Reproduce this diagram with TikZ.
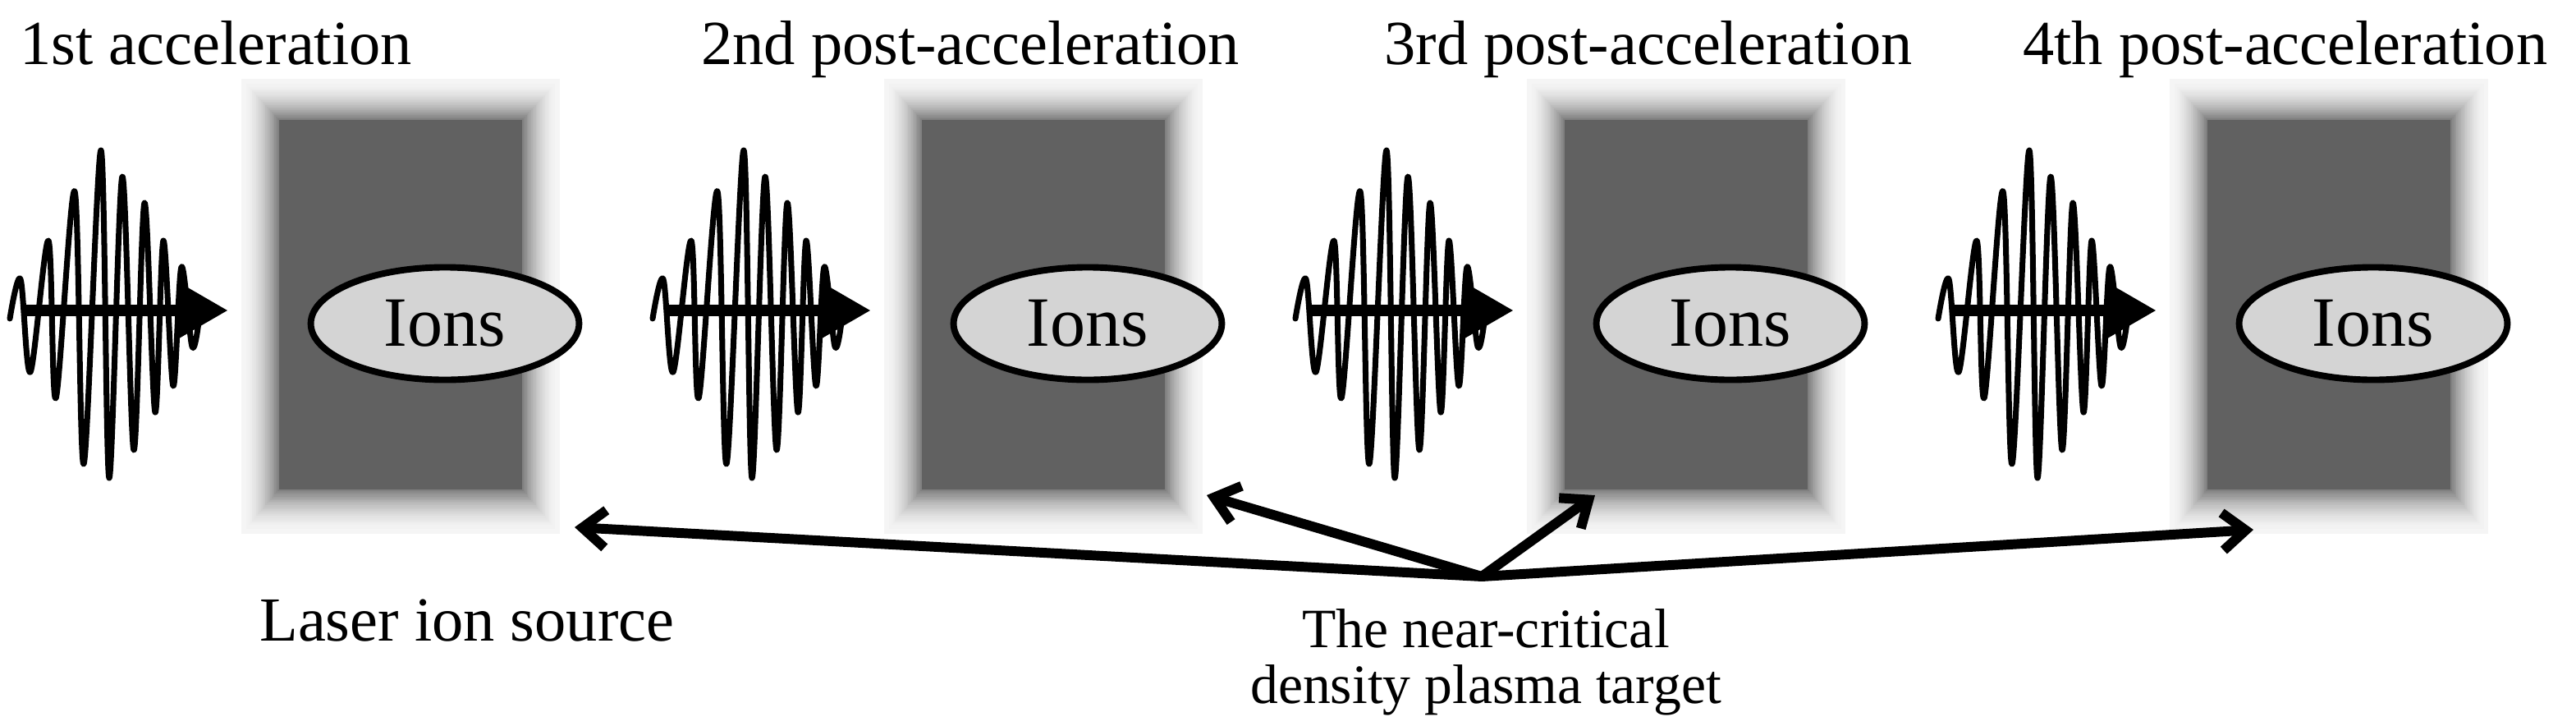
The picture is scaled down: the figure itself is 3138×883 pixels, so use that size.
\documentclass[tikz,border=0pt]{standalone}
\usepackage{fontspec}
\setmainfont{Liberation Serif}
\usetikzlibrary{arrows.meta,shapes.geometric}
\begin{document}
\begin{tikzpicture}[x=0.02cm,y=-0.02cm,
  lbl/.style={font=\fontsize{43.5pt}{48pt}\selectfont, inner sep=0pt},
  small/.style={font=\fontsize{38.5pt}{40pt}\selectfont, inner sep=0pt},
  ion/.style={ellipse, draw=black, line width=4.5pt, fill=black!17, inner sep=0pt,
    minimum width=186pt, minimum height=78pt, font=\fontsize{49pt}{52pt}\selectfont},
  wave/.style={line width=4pt, line join=round, line cap=round},
  beam/.style={line width=8.5pt, -{Triangle[length=34pt, width=36pt]}},
  ptr/.style={line width=6.8pt, line cap=round, -{Straight Barb[length=16pt, width=26pt]}}]
\useasboundingbox (0,0) rectangle (3138,883);
\fill[white] (0,0) rectangle (3138,883);
% plasma targets
\newcommand\plasmabox[2]{%
  \foreach \i in {0,...,24}{%
    \pgfmathtruncatemacro\pct{4+46*(\i/24)^1.8}%
    \fill[black!\pct] (#1+\i*46/25, 96+\i*50/25) rectangle (#1+388-\i*46/25, 650-\i*54/25);
  }
  \fill[black!62] (#1+46,146) rectangle (#1+342,596);
  \coordinate (#2) at (#1+194,373);
}
\plasmabox{294}{box1}
\plasmabox{1077}{box2}
\plasmabox{1860}{box3}
\plasmabox{2643}{box4}
\node[ion] (ion1) at (542,394) {Ions};
\node[ion] (ion2) at (1325,394) {Ions};
\node[ion] (ion3) at (2108,394) {Ions};
\node[ion] (ion4) at (2891,394) {Ions};
% laser pulses
\foreach \k in {0,1,2,3}{
  \begin{scope}[shift={(\k*783,0)}]
    \draw[wave] plot[smooth, tension=0.55] coordinates {(12,388) (25,340) (37,453) (59,293) (68,485) (91,233) (102,565) (123,183) (133,582) (149,215) (163,548) (176,247) (189,502) (199,293) (211,470) (221,325) (234,422) (242,392)};
    \coordinate (s\k) at (27,378);
    \coordinate (e\k) at (278,378);
    \draw[beam] (s\k) -- (e\k);
  \end{scope}
}
% labels
\node[lbl, anchor=base west] (l1) at (24,78) {1st acceleration};
\node[lbl, anchor=base west] (l2) at (854,78) {2nd post-acceleration};
\node[lbl, anchor=base west] (l3) at (1686,78) {3rd post-acceleration};
\node[lbl, anchor=base west] (l4) at (2464,78) {4th post-acceleration};
\node[lbl, anchor=base west] (src) at (316,780) {Laser ion source};
\node[small, anchor=base] (tg1) at (1810,788) {The near-critical};
\node[small, anchor=base] (tg2) at (1810,856) {density plasma target};
% pointers
\coordinate (C) at (1805,702);
\coordinate (t1) at (700,642);
\coordinate (t2) at (1470,603);
\coordinate (t3) at (1943,603);
\coordinate (t4) at (2745,645);
\draw[ptr] (C) -- (t1);
\draw[ptr] (C) -- (t2);
\draw[ptr] (C) -- (t3);
\draw[ptr] (C) -- (t4);
\end{tikzpicture}
\end{document}
